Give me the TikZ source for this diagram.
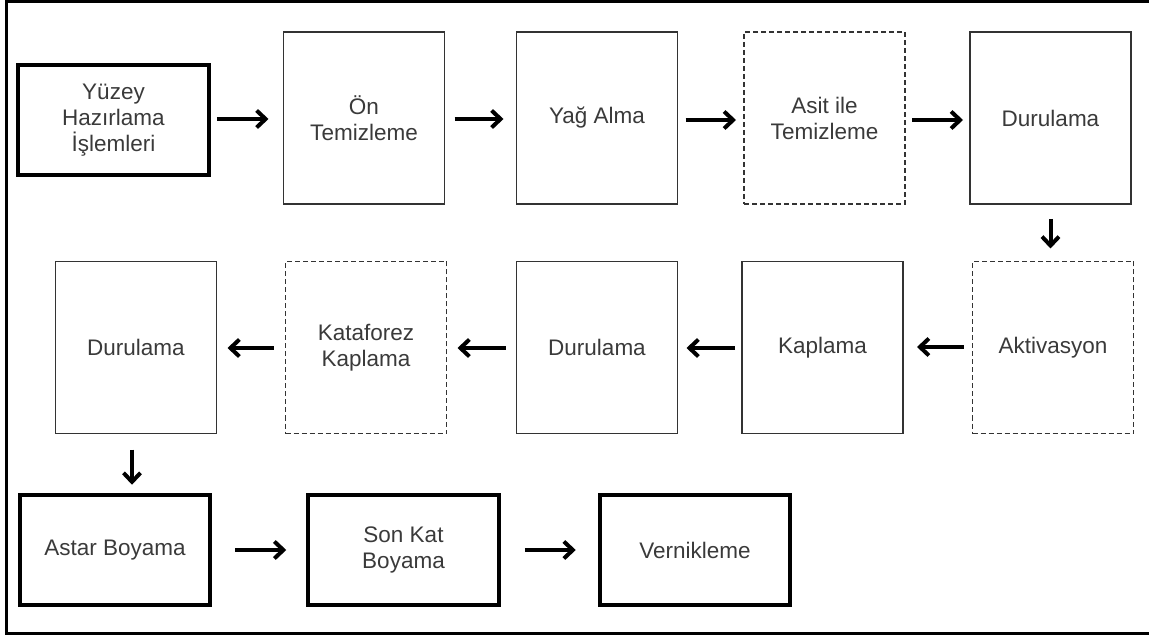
\documentclass[tikz,border=0pt]{standalone}
\usepackage{fontspec}
\setmainfont{Liberation Sans}
\usetikzlibrary{arrows.meta}
\definecolor{txt}{HTML}{3A3A3A}
\definecolor{edge}{HTML}{333333}
\begin{document}
\begin{tikzpicture}[x=1pt,y=-1pt,
  base/.style={rectangle,inner sep=0pt,outer sep=0pt,align=center,text=txt,
    font=\fontsize{22.5}{26}\selectfont},
  thinbox/.style={base,draw=edge,line width=1.3pt,minimum width=161,minimum height=172},
  dashbox/.style={thinbox,dash pattern=on 5pt off 3pt},
  thickbox/.style={base,draw=black,line width=3.6pt,minimum width=190.5,minimum height=110.5},
  flow/.style={draw=black,line width=4pt,-{Straight Barb[length=9pt,width=17pt,line width=4pt]}}
]
\useasboundingbox (0,0) rectangle (1149,636);
% frame
\draw[line width=3pt] (1149,1.5) -- (6,1.5) -- (6,633) -- (1149,633);

% row 1
\node[thickbox] (yuz) at (113.5,120) {Yüzey\\Hazırlama\\İşlemleri};
\node[thinbox] (on) at (364,118) {Ön\\Temizleme};
\node[thinbox] (yag) at (597,118) {Yağ Alma};
\node[dashbox] (asit) at (824.5,118) {Asit ile\\Temizleme};
\node[thinbox] (dur1) at (1050.5,118) {Durulama};
% row 2
\node[dashbox] (akt) at (1053,347.5) {Aktivasyon};
\node[thinbox] (kap) at (822.5,347.5) {Kaplama};
\node[thinbox] (dur2) at (597,347.5) {Durulama};
\node[dashbox] (kat) at (366,347.5) {Kataforez\\Kaplama};
\node[thinbox] (dur3) at (136,347.5) {Durulama};
% row 3
\node[thickbox] (ast) at (115,550) {Astar Boyama};
\node[thickbox] (son) at (403.5,550) {Son Kat\\Boyama};
\node[thickbox] (ver) at (695,550) {Vernikleme};

% arrows
\draw[flow,shorten <=8pt,shorten >=15pt] (yuz.east |- 0,119) -- (on.west |- 0,119);
\draw[flow,shorten <=10pt,shorten >=13pt] (on.east |- 0,119) -- (yag.west |- 0,119);
\draw[flow,shorten <=8pt,shorten >=8pt] (yag.east |- 0,120) -- (asit.west |- 0,120);
\draw[flow,shorten <=7pt,shorten >=7pt] (asit.east |- 0,120) -- (dur1.west |- 0,120);
\draw[flow,shorten <=15pt,shorten >=13pt] (dur1.south) -- (akt.north -| dur1.south);
\draw[flow,shorten <=9pt,shorten >=14pt] (akt.west |- 0,347) -- (kap.east |- 0,347);
\draw[flow,shorten <=7pt,shorten >=9pt] (kap.west |- 0,348) -- (dur2.east |- 0,348);
\draw[flow,shorten <=11pt,shorten >=11pt] (dur2.west |- 0,348) -- (kat.east |- 0,348);
\draw[flow,shorten <=12pt,shorten >=11pt] (kat.west |- 0,348) -- (dur3.east |- 0,348);
\draw[flow,shorten <=16pt,shorten >=10pt] (dur3.south -| 132,0) -- (ast.north -| 132,0);
\draw[flow,shorten <=25pt,shorten >=22pt] (ast.east |- 0,550) -- (son.west |- 0,550);
\draw[flow,shorten <=26pt,shorten >=24pt] (son.east |- 0,550) -- (ver.west |- 0,550);
\end{tikzpicture}
\end{document}
